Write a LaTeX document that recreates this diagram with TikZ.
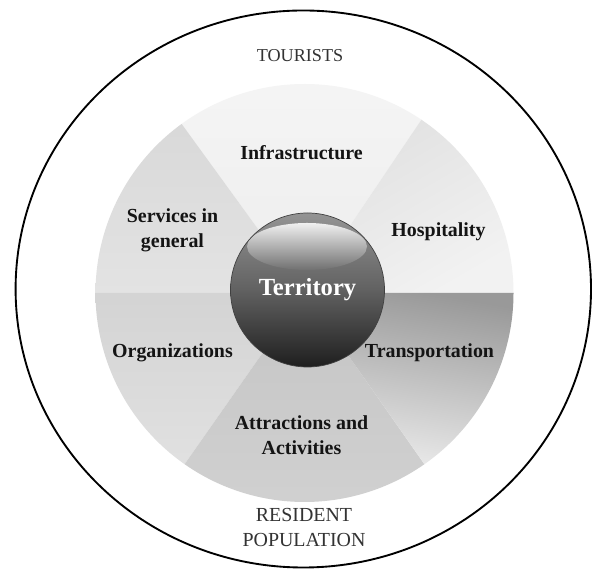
\documentclass[tikz,border=0pt]{standalone}
\usepackage{fontspec}
\setmainfont{Liberation Serif}
\begin{document}
\begin{tikzpicture}[x=0.03cm,y=0.03cm,
  lab/.style={font=\fontsize{17}{21.3}\selectfont\bfseries, text=black!92, align=center, inner sep=0pt},
  caps/.style={font=\fontsize{17}{21.3}\selectfont, text=black!80, align=center, inner sep=0pt}]
\useasboundingbox (0,0) rectangle (593,569);
\fill[white] (0,0) rectangle (593,569);
% outer ring
\draw[line width=1.6pt, black] (303.3,280) ellipse[x radius=287.7, y radius=278.5];
% sectors
\coordinate (D) at (304.5,276);
\shade[top color=black!4, bottom color=black!7]
  (D) -- ++(56:209) arc[start angle=56, end angle=126, radius=209] -- cycle;
\shade[top color=black!12, bottom color=black!5, shading angle=30]
  (D) -- ++(0:209) arc[start angle=0, end angle=56, radius=209] -- cycle;
\shade[top color=black!15, bottom color=black!11]
  (D) -- ++(126:209) arc[start angle=126, end angle=180, radius=209] -- cycle;
\shade[top color=black!17, bottom color=black!12]
  (D) -- ++(180:209) arc[start angle=180, end angle=235, radius=209] -- cycle;
\shade[top color=black!23, bottom color=black!18]
  (D) -- ++(235:209) arc[start angle=235, end angle=305, radius=209] -- cycle;
\shade[top color=black!40, bottom color=black!8, shading angle=-10]
  (D) -- ++(305:209) arc[start angle=305, end angle=360, radius=209] -- cycle;
% sphere
\coordinate (S) at (307.5,279);
\shade[top color=black!42, bottom color=black!88, middle color=black!62]
  (S) circle[radius=77];
\shade[top color=white!94!black, bottom color=black!56]
  (307,322.5) ellipse[x radius=60, y radius=23.5];
\draw[black!75, line width=0.6pt] (S) circle[radius=77];
% labels
\node[caps, font=\fontsize{15.5}{20}\selectfont] (tour) at (300,513) {TOURISTS};
\node[lab] (infra) at (301.5,416) {Infrastructure};
\node[lab] (serv) at (172.5,339) {Services in\\general};
\node[lab] (hosp) at (438.5,337) {Hospitality};
\node[lab] (org) at (172.5,216) {Organizations};
\node[lab] (trans) at (429.5,216) {Transportation};
\node[lab] (attr) at (301.5,134) {Attractions and\\Activities};
\node[font=\fontsize{21}{25}\selectfont\bfseries, text=white, inner sep=0pt] (terr) at (307.5,279) {Territory};
\node[caps] (res) at (304,41.5) {RESIDENT\\POPULATION};
\end{tikzpicture}
\end{document}
